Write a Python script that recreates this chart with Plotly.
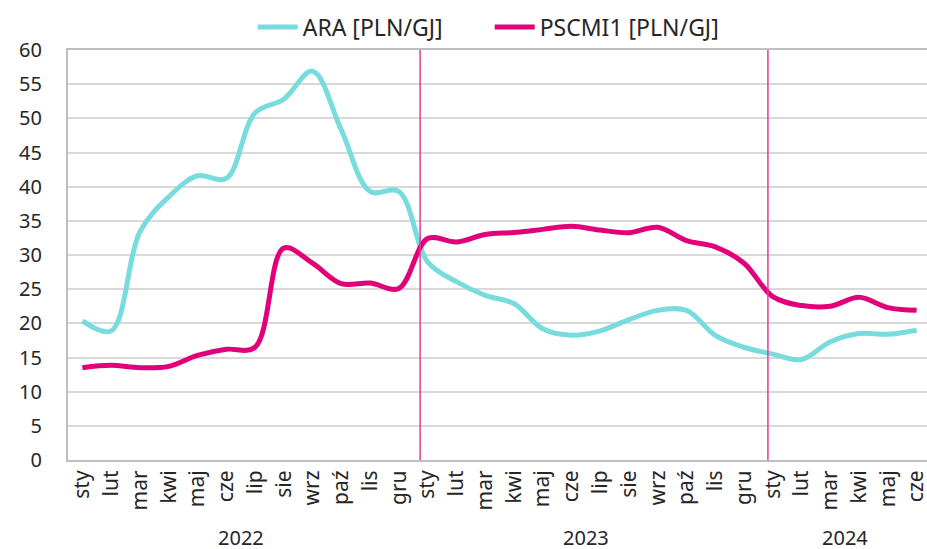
import plotly.graph_objects as go

months = ["sty", "lut", "mar", "kwi", "maj", "cze", "lip", "sie", "wrz", "paź", "lis", "gru",
          "sty", "lut", "mar", "kwi", "maj", "cze", "lip", "sie", "wrz", "paź", "lis", "gru",
          "sty", "lut", "mar", "kwi", "maj", "cze"]
years = ["2022", "2023", "2024"]
months_per_year = [12, 12, 6]

ara = [20.35, 18.9, 33.4, 38.5, 41.6, 41.2, 50.8, 52.8, 56.9, 48.3, 39.3, 39.3,
       29.0, 26.1, 24.1, 22.9, 19.2, 18.25, 18.9, 20.55, 21.9, 21.9, 18.25, 16.5,
       15.5, 14.7, 17.3, 18.5, 18.4, 19.0]
pscmi1 = [13.5, 13.85, 13.5, 13.7, 15.3, 16.2, 16.5, 31.0, 28.8, 25.8, 25.9, 25.1,
          32.4, 31.9, 33.0, 33.3, 33.75, 34.2, 33.65, 33.25, 34.05, 32.1, 31.2, 28.8,
          23.9, 22.6, 22.5, 23.8, 22.3, 21.9]
divider_positions = [11.74, 23.83]

y_ticks = list(range(0, 61, 5))

FONT = "Noto Sans"
TXT = "#262626"
x = list(range(len(months)))

fig = go.Figure()
fig.add_trace(go.Scatter(x=x, y=ara, name="ARA [PLN/GJ]", mode="lines",
                         line=dict(color="#78DCDF", width=5, shape="spline", smoothing=1.0)))
fig.add_trace(go.Scatter(x=x, y=pscmi1, name="PSCMI1 [PLN/GJ]", mode="lines",
                         line=dict(color="#E2007A", width=5, shape="spline", smoothing=1.0)))

for d in divider_positions:
    fig.add_shape(type="line", xref="x", yref="y", x0=d, x1=d, y0=0, y1=60,
                  line=dict(color="#E43C93", width=1.5), layer="above")

# year labels centred under their months
start = 0
for yr, n in zip(years, months_per_year):
    fig.add_annotation(x=start + (n - 1) / 2, y=-0.188, xref="x", yref="paper",
                       text=yr, showarrow=False, yanchor="middle", height=22,
                       font=dict(family=FONT, size=20, color=TXT))
    start += n

fig.update_layout(
    width=927, height=549,
    margin=dict(l=68, r=0, t=50, b=89, autoexpand=False),
    paper_bgcolor="white", plot_bgcolor="white",
    font=dict(family=FONT, size=20, color=TXT),
    showlegend=True,
    legend=dict(orientation="h", x=0.215, xanchor="left", y=1.056, yanchor="middle",
                font=dict(family=FONT, size=23, color=TXT),
                itemwidth=40, entrywidth=182, entrywidthmode="pixels",
                bgcolor="rgba(0,0,0,0)"),
    xaxis=dict(range=[-0.5, 29.36], tickmode="array", tickvals=x, ticktext=months,
               tickangle=-90, showgrid=False, zeroline=False, automargin=False,
               ticklabeloverflow="allow",
               showline=True, linecolor="#BFBFBF", linewidth=2, mirror=True,
               ticks="", tickfont=dict(family=FONT, size=21, color=TXT)),
    yaxis=dict(range=[0, 60], tickmode="array", tickvals=y_ticks, automargin=False,
               showgrid=True, gridcolor="#D9D9D9", gridwidth=1.5, zeroline=False,
               showline=True, linecolor="#BFBFBF", linewidth=2,
               ticks="", ticklabelstandoff=20,
               tickfont=dict(family=FONT, size=20, color=TXT)),
)

fig.write_html("out.html", config={"displayModeBar": False},
               post_script="document.body.style.margin='0';")
